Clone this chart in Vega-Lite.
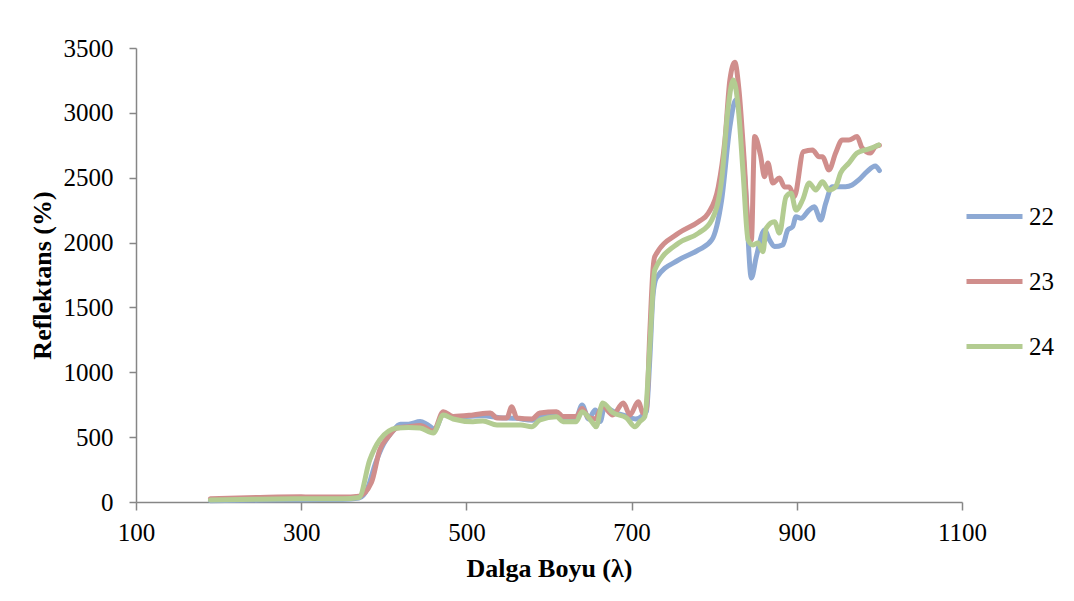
{
  "$schema": "https://vega.github.io/schema/vega-lite/v6.json",
  "width": 826,
  "height": 454,
  "autosize": {"type": "none"},
  "padding": {"left": 136, "top": 48, "right": 112, "bottom": 99},
  "background": "white",
  "config": {
    "view": {"stroke": null},
    "font": "Liberation Serif",
    "axis": {"grid": false, "labelFlush": false, "domainColor": "#868686", "tickColor": "#868686", "labelFont": "Liberation Serif", "titleFont": "Liberation Serif", "labelFontSize": 25, "titleFontSize": 26, "labelColor": "#000", "titleColor": "#000", "titleFontWeight": "bold", "domainWidth": 1.5, "tickWidth": 1.5, "format": "d"}
  },
  "data": {"values": [
    {"s":"22","x":190,"y":10},{"s":"22","x":250,"y":15},{"s":"22","x":300,"y":18},{"s":"22","x":350,"y":20},{"s":"22","x":370,"y":30},{"s":"22","x":380,"y":100},{"s":"22","x":390,"y":300},{"s":"22","x":400,"y":450},{"s":"22","x":410,"y":540},{"s":"22","x":420,"y":600},{"s":"22","x":430,"y":600},{"s":"22","x":444,"y":620},{"s":"22","x":452,"y":600},{"s":"22","x":462,"y":560},{"s":"22","x":472,"y":680},{"s":"22","x":484,"y":650},{"s":"22","x":500,"y":660},{"s":"22","x":520,"y":665},{"s":"22","x":540,"y":650},{"s":"22","x":560,"y":645},{"s":"22","x":580,"y":630},{"s":"22","x":590,"y":660},{"s":"22","x":610,"y":670},{"s":"22","x":620,"y":650},{"s":"22","x":633,"y":650},{"s":"22","x":640,"y":748},{"s":"22","x":648,"y":640},{"s":"22","x":656,"y":710},{"s":"22","x":662,"y":620},{"s":"22","x":667,"y":730},{"s":"22","x":680,"y":690},{"s":"22","x":695,"y":660},{"s":"22","x":705,"y":640},{"s":"22","x":714,"y":670},{"s":"22","x":718,"y":700},{"s":"22","x":722,"y":1100},{"s":"22","x":726,"y":1600},{"s":"22","x":730,"y":1727},{"s":"22","x":757,"y":1866},{"s":"22","x":781,"y":1943},{"s":"22","x":797,"y":2020},{"s":"22","x":809,"y":2328},{"s":"22","x":819,"y":2894},{"s":"22","x":826,"y":3100},{"s":"22","x":832,"y":2922},{"s":"22","x":838,"y":2405},{"s":"22","x":845,"y":1727},{"s":"22","x":851,"y":1891},{"s":"22","x":861,"y":2097},{"s":"22","x":867,"y":2020},{"s":"22","x":873,"y":1969},{"s":"22","x":883,"y":1982},{"s":"22","x":889,"y":2097},{"s":"22","x":895,"y":2123},{"s":"22","x":899,"y":2200},{"s":"22","x":905,"y":2187},{"s":"22","x":915,"y":2251},{"s":"22","x":921,"y":2277},{"s":"22","x":929,"y":2174},{"s":"22","x":935,"y":2303},{"s":"22","x":943,"y":2431},{"s":"22","x":959,"y":2431},{"s":"22","x":967,"y":2444},{"s":"22","x":975,"y":2483},{"s":"22","x":985,"y":2547},{"s":"22","x":995,"y":2591},{"s":"22","x":1000,"y":2555},
    {"s":"23","x":190,"y":25},{"s":"23","x":250,"y":35},{"s":"23","x":300,"y":40},{"s":"23","x":310,"y":38},{"s":"23","x":350,"y":38},{"s":"23","x":370,"y":45},{"s":"23","x":385,"y":150},{"s":"23","x":395,"y":400},{"s":"23","x":405,"y":500},{"s":"23","x":416,"y":570},{"s":"23","x":430,"y":580},{"s":"23","x":444,"y":590},{"s":"23","x":460,"y":545},{"s":"23","x":472,"y":696},{"s":"23","x":484,"y":660},{"s":"23","x":508,"y":671},{"s":"23","x":529,"y":686},{"s":"23","x":537,"y":648},{"s":"23","x":549,"y":648},{"s":"23","x":555,"y":735},{"s":"23","x":561,"y":648},{"s":"23","x":579,"y":640},{"s":"23","x":589,"y":686},{"s":"23","x":609,"y":696},{"s":"23","x":617,"y":660},{"s":"23","x":633,"y":660},{"s":"23","x":640,"y":720},{"s":"23","x":648,"y":650},{"s":"23","x":656,"y":640},{"s":"23","x":665,"y":740},{"s":"23","x":677,"y":671},{"s":"23","x":690,"y":763},{"s":"23","x":698,"y":671},{"s":"23","x":708,"y":773},{"s":"23","x":714,"y":686},{"s":"23","x":718,"y":720},{"s":"23","x":722,"y":1300},{"s":"23","x":726,"y":1800},{"s":"23","x":728,"y":1891},{"s":"23","x":757,"y":2073},{"s":"23","x":781,"y":2161},{"s":"23","x":793,"y":2228},{"s":"23","x":805,"y":2431},{"s":"23","x":813,"y":2791},{"s":"23","x":819,"y":3254},{"s":"23","x":825,"y":3390},{"s":"23","x":830,"y":3177},{"s":"23","x":836,"y":2662},{"s":"23","x":842,"y":2073},{"s":"23","x":845,"y":2020},{"s":"23","x":849,"y":2817},{"s":"23","x":856,"y":2675},{"s":"23","x":861,"y":2508},{"s":"23","x":865,"y":2613},{"s":"23","x":871,"y":2459},{"s":"23","x":879,"y":2498},{"s":"23","x":885,"y":2429},{"s":"23","x":891,"y":2429},{"s":"23","x":897,"y":2354},{"s":"23","x":908,"y":2701},{"s":"23","x":919,"y":2714},{"s":"23","x":927,"y":2662},{"s":"23","x":931,"y":2662},{"s":"23","x":939,"y":2560},{"s":"23","x":947,"y":2690},{"s":"23","x":955,"y":2791},{"s":"23","x":963,"y":2791},{"s":"23","x":973,"y":2817},{"s":"23","x":979,"y":2730},{"s":"23","x":989,"y":2690},{"s":"23","x":995,"y":2739},{"s":"23","x":1000,"y":2750},
    {"s":"24","x":190,"y":15},{"s":"24","x":250,"y":22},{"s":"24","x":300,"y":25},{"s":"24","x":350,"y":25},{"s":"24","x":370,"y":35},{"s":"24","x":383,"y":324},{"s":"24","x":395,"y":478},{"s":"24","x":416,"y":570},{"s":"24","x":430,"y":575},{"s":"24","x":444,"y":570},{"s":"24","x":460,"y":532},{"s":"24","x":472,"y":671},{"s":"24","x":484,"y":640},{"s":"24","x":508,"y":619},{"s":"24","x":520,"y":625},{"s":"24","x":537,"y":594},{"s":"24","x":566,"y":594},{"s":"24","x":579,"y":580},{"s":"24","x":589,"y":632},{"s":"24","x":609,"y":658},{"s":"24","x":617,"y":619},{"s":"24","x":633,"y":619},{"s":"24","x":640,"y":696},{"s":"24","x":653,"y":609},{"s":"24","x":657,"y":580},{"s":"24","x":665,"y":763},{"s":"24","x":677,"y":690},{"s":"24","x":694,"y":648},{"s":"24","x":704,"y":580},{"s":"24","x":710,"y":620},{"s":"24","x":716,"y":658},{"s":"24","x":722,"y":1197},{"s":"24","x":726,"y":1650},{"s":"24","x":728,"y":1789},{"s":"24","x":757,"y":1997},{"s":"24","x":781,"y":2073},{"s":"24","x":797,"y":2174},{"s":"24","x":809,"y":2483},{"s":"24","x":817,"y":3048},{"s":"24","x":823,"y":3254},{"s":"24","x":829,"y":3048},{"s":"24","x":835,"y":2536},{"s":"24","x":841,"y":2020},{"s":"24","x":847,"y":1982},{"s":"24","x":853,"y":1997},{"s":"24","x":859,"y":1930},{"s":"24","x":863,"y":2112},{"s":"24","x":873,"y":2161},{"s":"24","x":879,"y":2073},{"s":"24","x":887,"y":2354},{"s":"24","x":893,"y":2380},{"s":"24","x":899,"y":2251},{"s":"24","x":907,"y":2328},{"s":"24","x":915,"y":2459},{"s":"24","x":923,"y":2405},{"s":"24","x":931,"y":2469},{"s":"24","x":939,"y":2405},{"s":"24","x":947,"y":2431},{"s":"24","x":953,"y":2536},{"s":"24","x":963,"y":2613},{"s":"24","x":973,"y":2690},{"s":"24","x":983,"y":2714},{"s":"24","x":991,"y":2730},{"s":"24","x":999,"y":2753}
  ]},
  "mark": {"type": "line", "strokeWidth": 5, "interpolate": "monotone", "strokeCap": "round", "strokeJoin": "round"},
  "encoding": {
    "x": {"field": "x", "type": "quantitative", "scale": {"domain": [100, 1100], "nice": false, "zero": false}, "axis": {"values": [100, 300, 500, 700, 900, 1100], "tickSize": 8, "labelPadding": 10, "title": "Dalga Boyu (λ)", "titlePadding": 10}},
    "y": {"field": "y", "type": "quantitative", "scale": {"domain": [0, 3500], "nice": false}, "axis": {"values": [0, 500, 1000, 1500, 2000, 2500, 3000, 3500], "tickSize": 7, "labelPadding": 16, "title": "Reflektans (%)", "titlePadding": 8}},
    "color": {"field": "s", "type": "nominal", "scale": {"domain": ["22", "23", "24"], "range": ["#8DA9D4", "#D08E8C", "#B3CC91"]}, "legend": {"title": null, "orient": "none", "legendX": 828, "legendY": 138, "symbolType": "stroke", "symbolSize": 3136, "symbolStrokeWidth": 5, "rowPadding": 21, "labelFontSize": 25, "labelFont": "Liberation Serif", "labelColor": "#000", "labelOffset": 4}}
  }
}
